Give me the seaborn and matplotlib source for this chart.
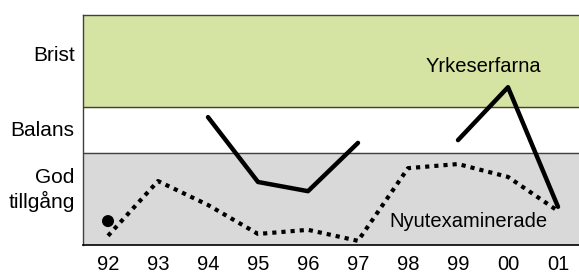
import numpy as np
import pandas as pd
import matplotlib
matplotlib.use("Agg")
import matplotlib.pyplot as plt
import seaborn as sns

years = ["92", "93", "94", "95", "96", "97", "98", "99", "00", "01"]
yrkeserfarna = [0.52, np.nan, 2.78, 1.37, 1.17, 2.22, np.nan, 2.28, 3.43, 0.83]
nyutexaminerade = [0.20, 1.39, 0.87, 0.24, 0.33, 0.09, 1.67, 1.76, 1.48, 0.74]
level_labels = ["God\ntillgång", "Balans", "Brist"]
level_pos = [1.28, 2.54, 4.17]

sns.set_style("white")
plt.rcParams["font.family"] = ["Liberation Sans", "DejaVu Sans"]
plt.rcParams["text.color"] = "black"
plt.rcParams["xtick.color"] = "black"
plt.rcParams["ytick.color"] = "black"

fig = plt.figure(figsize=(5.79, 2.73), dpi=100)
ax = fig.add_axes([83 / 579, 28 / 273, 500 / 579, 230 / 273])

ax.axhspan(3, 5, color="#d6e4a3", zorder=0)
ax.axhspan(0, 2, color="#d9d9d9", zorder=0)
for yv in (2, 3):
    ax.axhline(yv, color="#404040", lw=1.0, zorder=1)

x = np.arange(len(years))
seg = []
s = 0
prev_nan = True
for v in yrkeserfarna:
    if np.isnan(v):
        prev_nan = True
        seg.append(-1)
    else:
        if prev_nan:
            s += 1
        prev_nan = False
        seg.append(s)
dfy = pd.DataFrame({"x": x, "y": yrkeserfarna, "seg": seg}).dropna()
counts = dfy.groupby("seg")["x"].transform("count")
lines_df = dfy[counts > 1]
single_df = dfy[counts == 1]

sns.lineplot(data=lines_df, x="x", y="y", units="seg", estimator=None,
             color="black", lw=3.2, ax=ax, zorder=3)
sns.scatterplot(data=single_df, x="x", y="y", color="black", s=75,
                edgecolor="none", ax=ax, zorder=3)

dfn = pd.DataFrame({"x": x, "y": nyutexaminerade})
sns.lineplot(data=dfn, x="x", y="y", color="black", lw=3.0,
             linestyle=(0, (1, 1.2)), dash_capstyle="butt", ax=ax, zorder=3)

ax.text(7.5, 3.89, "Yrkeserfarna", ha="center", va="center", fontsize=14.5, color="black")
ax.text(7.2, 0.52, "Nyutexaminerade", ha="center", va="center", fontsize=14.5, color="black")

ax.set_xlim(-0.5, 9.5)
ax.set_ylim(0, 5)
ax.set_xticks(x)
ax.set_xticklabels(years, fontsize=14.5)
ax.set_xticks(np.arange(0.5, 9, 1), minor=True)
ax.tick_params(axis="x", which="major", length=0, pad=7, labelcolor="black")
ax.tick_params(axis="x", which="minor", direction="in", length=3.5, width=1, color="black")
ax.set_yticks(level_pos)
ax.set_yticklabels(level_labels, fontsize=15)
ax.tick_params(axis="y", length=0, pad=6, labelcolor="black")
ax.set_xlabel("")
ax.set_ylabel("")

for side in ("left", "top"):
    ax.spines[side].set_color("#404040")
    ax.spines[side].set_linewidth(1.0)
ax.spines["bottom"].set_color("black")
ax.spines["bottom"].set_linewidth(1.2)
ax.spines["right"].set_visible(False)

fig.savefig("out.png", dpi=100)
